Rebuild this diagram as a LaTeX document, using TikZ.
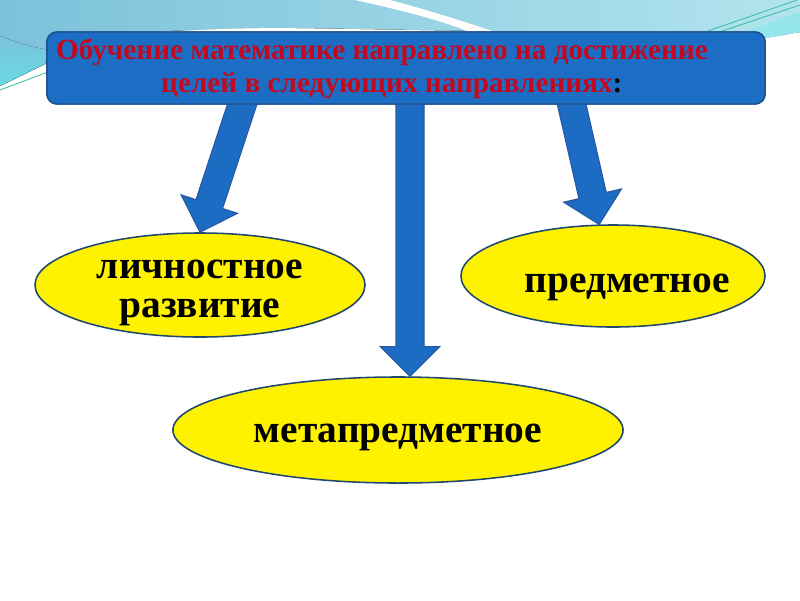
\documentclass[tikz,border=0pt]{standalone}
\usepackage{fontspec}
\setmainfont{Liberation Serif}
\usetikzlibrary{calc,shapes.geometric}

\definecolor{fonlevo}{RGB}{124,194,218}
\definecolor{fonpravo}{RGB}{178,228,238}
\definecolor{fongoluboj}{RGB}{104,218,230}
\definecolor{linija}{RGB}{62,190,170}
\definecolor{plashkasinij}{RGB}{27,110,196}
\definecolor{plashkakraj}{RGB}{30,78,140}
\definecolor{strelkasinij}{RGB}{28,108,196}
\definecolor{strelkakraj}{RGB}{40,90,160}
\definecolor{zagolovokkrasnyj}{RGB}{196,8,30}
\definecolor{ovalkraj}{RGB}{31,72,110}

\begin{document}
\begin{tikzpicture}[x=0.025cm,y=-0.025cm,
		plashka/.style={draw=plashkakraj, line width=1pt, fill=plashkasinij, rounded corners=0.25cm,
			minimum width=17.95cm, minimum height=1.8cm},
		zagolovok/.style={text=zagolovokkrasnyj, align=center, inner sep=0pt,
			font=\bfseries\fontsize{20.8}{23.5}\selectfont},
		oval/.style={ellipse, draw=ovalkraj, line width=1.1pt, fill=yellow, inner sep=0pt,
			align=center, font=\bfseries\fontsize{28}{28}\selectfont},
		blok/.style={draw=strelkakraj, line width=0.8pt, fill=strelkasinij, line join=miter},
		]
		% ── Parametri strelok ──
		\def\sw{0.35cm}   % polovina shiriny sterzhnya
		\def\hw{0.74cm}   % polovina shiriny nakonechnika
		\def\hl{0.74cm}   % dlina nakonechnika
		
		% ── Blochnaja strelka ot #1 k #2 ──
		\def\strelka#1#2{%
			\coordinate (n) at ($(#2)!\hl!(#1)$);
			\draw[blok] ($(#1)!\sw!90:(#2)$) -- ($(n)!\sw!90:(#2)$) -- ($(n)!\hw!90:(#2)$) -- (#2)
			-- ($(n)!\hw!-90:(#2)$) -- ($(n)!\sw!-90:(#2)$) -- ($(#1)!\sw!-90:(#2)$) -- cycle;}
		
		\useasboundingbox (0,0) rectangle (800,600);
		\fill[white] (0,0) rectangle (800,600);
		
		% ===================== fon =====================
		\fill[left color=fonlevo, right color=fonpravo] (0,0) -- (800,0) -- (800,32) -- (765,38)
		-- (600,33) -- (300,28) -- (160,31) -- (45,64) -- (0,86) -- cycle;
		\fill[top color=fonlevo, bottom color=fongoluboj] (0,36) .. controls (20,44) and (35,48) .. (50,50)
		-- (45,64) -- (0,86) -- cycle;
		\fill[white] (355,0) .. controls (400,10) and (440,20) .. (467,31) -- (492,31)
		.. controls (460,20) and (420,8) .. (390,0) -- cycle;
		\fill[white] (150,33) .. controls (200,29) and (250,28) .. (295,28) -- (295,30)
		.. controls (250,30) and (200,31) .. (150,35) -- cycle;
		\fill[fongoluboj!70!white] (728,38) -- (800,12) -- (800,32) -- (767,38) -- cycle;
		\draw[linija, line width=0.6pt] (0,90) -- (48,72);
		\draw[linija, line width=0.6pt] (708,31) -- (800,-1);
		\draw[linija, line width=0.6pt] (716,33) -- (800,5);
		
		% ===================== ovaly =====================
		\node[oval, minimum width=8.25cm, minimum height=2.6cm, inner ysep=-5pt] (lichnoe) at (200,285)
		{\rule{0pt}{24pt}личностное\\развитие};
		\node[oval, minimum width=7.6cm, minimum height=2.55cm, text height=29pt, text depth=6pt] (predmet) at (613,276)
		{\hspace*{10pt}предметное\hspace*{-10pt}};
		\node[oval, minimum width=11.25cm, minimum height=2.65cm, text height=24pt, text depth=6pt] (meta) at (398,430)
		{метапредметное};
		
		% ===================== strelki =====================
		\node[plashka] (cel) at (406,68) {};
		\coordinate (s1) at ($(cel.south)+(-161,-9)$);
		\coordinate (s2) at ($(cel.south)+(4,-9)$);
		\coordinate (s3) at ($(cel.south)+(163,-12)$);
		\strelka{s1}{lichnoe.north}
		\strelka{s2}{s2 |- meta.north}
		\strelka{s3}{predmet.105}
		
		% ===================== plashka =====================
		\node[plashka] (cel) at (406,68) {};
		\node[zagolovok] (celtekst) at (382,69) {Обучение математике направлено на достижение\\
			\hspace*{14pt}целей в следующих направлениях\textcolor{black}{:}};
		
	\end{tikzpicture}
\end{document}
